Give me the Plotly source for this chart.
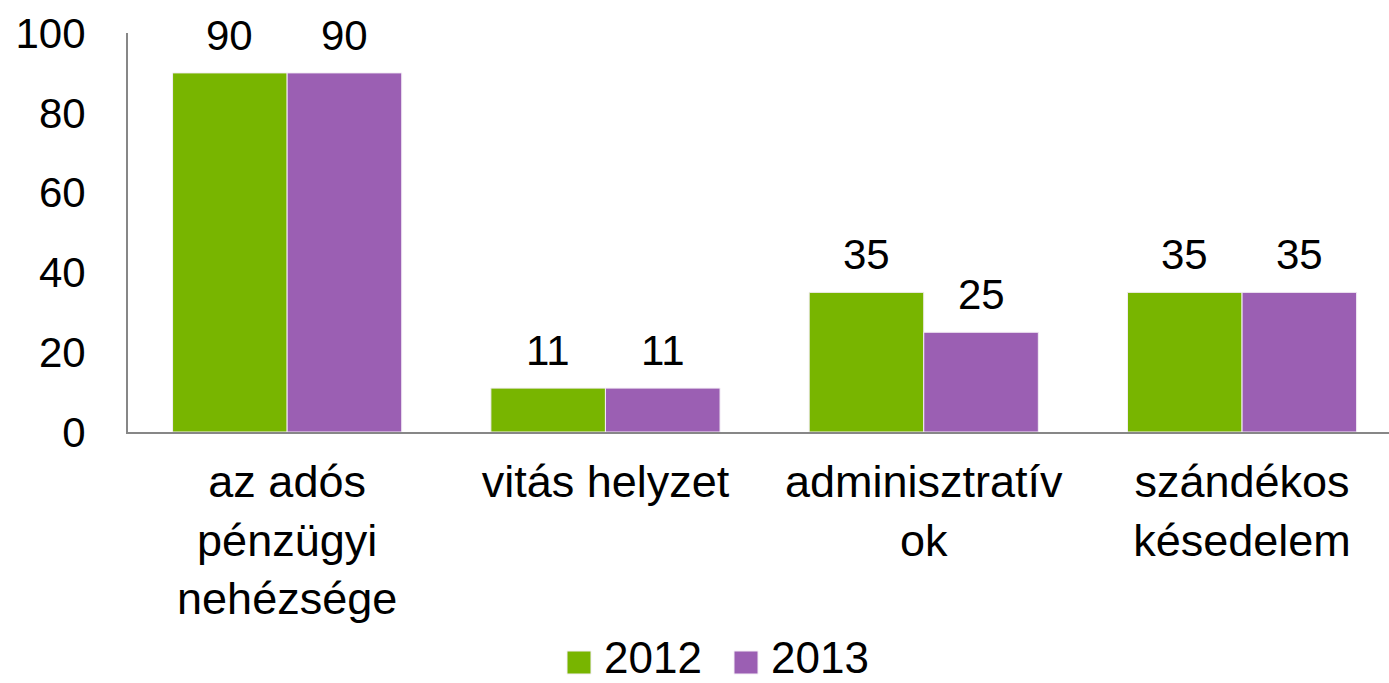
import plotly.graph_objects as go

categories = ["az adós<br>pénzügyi<br>nehézsége", "vitás helyzet", "adminisztratív<br>ok", "szándékos<br>késedelem"]
series_names = ["2012", "2013"]
values_2012 = [90, 11, 35, 35]
values_2013 = [90, 11, 25, 35]
y_ticks = [0, 20, 40, 60, 80, 100]

colors = ["#78b500", "#9b5fb3"]
FONT = "Liberation Sans, Arial, sans-serif"
FS = 42      # ticks / data labels
FS_CAT = 45  # category labels
FS_LEG = 44  # legend

W, H = 1389, 683
L, R, T, B = 128, 0, 33, 251
pw = W - L - R
ph = H - T - B
cat_px = 318.3
BARGAP = 0.28

fig = go.Figure()
for name, vals, col in zip(series_names, [values_2012, values_2013], colors):
    fig.add_trace(go.Bar(
        x=categories, y=vals, name=name,
        marker=dict(color=col, line=dict(color="#f4eef6", width=1)),
        showlegend=False, hoverinfo="skip",
    ))

# data labels above each bar
bar_w = cat_px * (1 - BARGAP) / 2
for i, vals in enumerate([values_2012, values_2013]):
    shift = (i - 0.5) * bar_w
    for c, v in zip(categories, vals):
        fig.add_annotation(x=c, y=v, text=str(v), showarrow=False,
                           xanchor="center", yanchor="bottom", xshift=shift, yshift=12,
                           font=dict(size=FS, family=FONT, color="black"))

fig.update_layout(
    width=W, height=H,
    margin=dict(l=L, r=R, t=T, b=B, pad=0),
    paper_bgcolor="white", plot_bgcolor="white",
    barmode="group", bargap=BARGAP, bargroupgap=0.0,
    font=dict(family=FONT, size=FS, color="black"),
    xaxis=dict(
        range=[-0.5, -0.5 + pw / cat_px],
        showline=True, linecolor="#878787", linewidth=2,
        ticks="", showgrid=False, ticklabelstandoff=9,
        tickfont=dict(size=FS_CAT, family=FONT, color="black"),
    ),
    yaxis=dict(
        range=[0, 100], tickvals=y_ticks,
        showline=True, linecolor="#878787", linewidth=2,
        ticks="", showgrid=False, zeroline=False, ticklabelstandoff=32,
        tickfont=dict(size=FS, family=FONT, color="black"),
    ),
)

# custom legend (pixel positions converted to paper coordinates)
def px(x):
    return (x - L) / pw

def py(y):
    return (H - B - y) / ph

legend_items = [(series_names[0], colors[0], 567, 602), (series_names[1], colors[1], 734, 769)]
for name, col, sx, tx in legend_items:
    fig.add_shape(type="rect", xref="paper", yref="paper",
                  x0=px(sx), x1=px(sx + 24), y0=py(674), y1=py(651),
                  fillcolor=col, line=dict(color="#f4eef6", width=1))
    fig.add_annotation(xref="paper", yref="paper", x=px(tx), y=py(657),
                       text=name, showarrow=False, xanchor="left", yanchor="middle",
                       font=dict(size=FS_LEG, family=FONT, color="black"))

fig.write_html("out.html", config={"displayModeBar": False},
               post_script="document.body.style.margin='0px';document.body.style.overflow='hidden';")
